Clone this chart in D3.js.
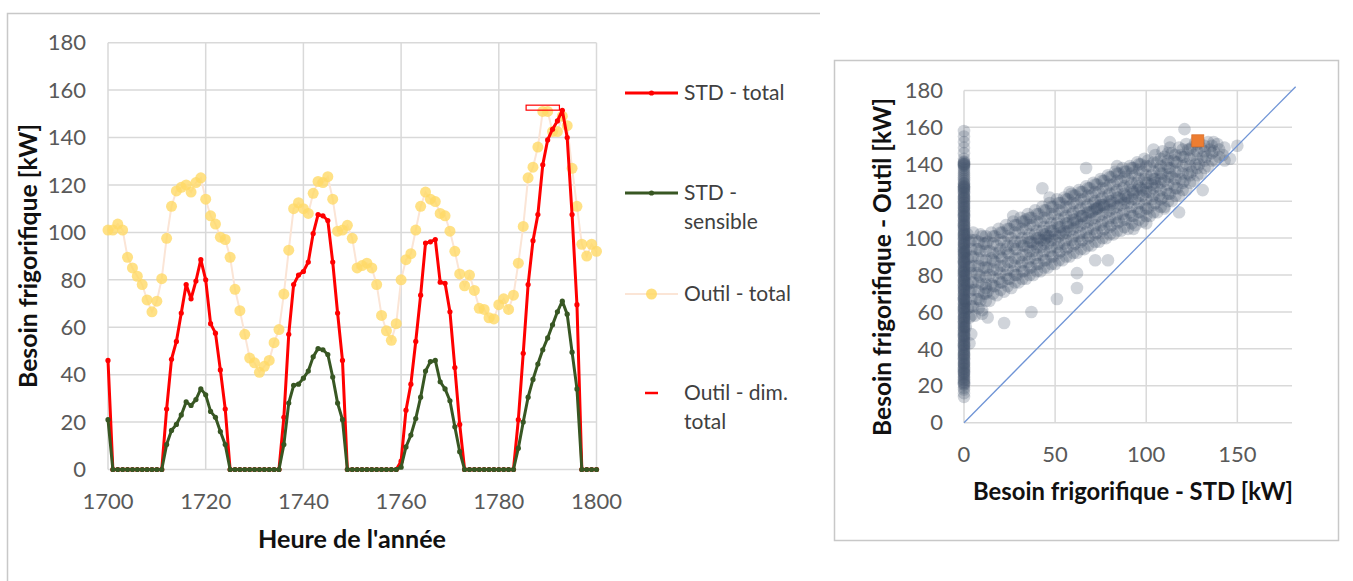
<!DOCTYPE html>
<html>
<head>
<meta charset="utf-8">
<script src="https://cdn.jsdelivr.net/npm/d3@7"></script>
<style>
  body { margin: 0; background: #fff; }
  svg { display: block; font-family: Lato, "Open Sans", sans-serif; }
</style>
</head>
<body>
<div id="chart"></div>
<script>
// ---- left chart data (hour 1700 .. 1800) ----
const hourTicks = [1700, 1720, 1740, 1760, 1780, 1800];
const kwTicks = [0, 20, 40, 60, 80, 100, 120, 140, 160, 180];

const stdTotal = [
  46, 0, 0, 0, 0, 0, 0, 0, 0, 0, 0, 0,
  25.5, 46.5, 54, 66, 78, 72, 79.5, 88.5, 80, 61.5, 57.5, 42, 25.5,
  0, 0, 0, 0, 0, 0, 0, 0, 0, 0, 0,
  22, 57, 78, 82, 83.5, 87.5, 99.5, 107.5, 107, 105, 87.5, 66, 46,
  0, 0, 0, 0, 0, 0, 0, 0, 0, 0, 0,
  3.5, 25, 36, 54, 73.5, 95.5, 96, 97, 79, 78.5, 66.5, 43, 19,
  0, 0, 0, 0, 0, 0, 0, 0, 0, 0, 0,
  21, 49, 78, 96.5, 107.5, 128.5, 139, 143.5, 147, 151.5, 140, 107.5, 69.5,
  0, 0, 0, 0
];

const stdSensible = [
  21, 0, 0, 0, 0, 0, 0, 0, 0, 0, 0, 0,
  10.5, 16.5, 19, 23, 28.5, 27, 29.5, 34, 31.5, 24.5, 22, 16, 10.5,
  0, 0, 0, 0, 0, 0, 0, 0, 0, 0, 0,
  10.5, 28, 35.5, 36, 38.5, 41.5, 47.5, 51, 50.5, 48.5, 39, 28, 21,
  0, 0, 0, 0, 0, 0, 0, 0, 0, 0, 0,
  1, 9.5, 14.5, 21.5, 30.5, 41.5, 45.5, 46, 37, 34, 29, 18, 7.5,
  0, 0, 0, 0, 0, 0, 0, 0, 0, 0, 0,
  9, 20, 30.5, 38, 44.5, 50.5, 55.5, 61, 66.5, 71, 65.5, 49.5, 34,
  0, 0, 0, 0
];

const outilTotal = [
  101, 101, 103.5, 101, 89.5, 85, 81.5, 78, 71.5, 66.5, 71,
  80.5, 97.5, 111, 117.5, 119, 120, 117, 121, 123, 114,
  107, 103.5, 98, 97, 89.5, 76, 67, 57, 47, 45,
  41, 43.5, 46, 53.5, 59, 74, 92.5, 110, 112.5, 110,
  108, 116.5, 121.5, 121, 123.5, 114, 100.5, 101, 103, 97.5,
  85, 86, 87, 85, 78, 65, 58.5, 54.5, 61.5, 80,
  88.5, 91, 101, 111, 117, 114, 113, 108, 107, 100.5,
  92, 82.5, 77.5, 82, 75.5, 68, 67.5, 64, 63.5, 69.5,
  72, 67.5, 73.5, 87, 102.5, 123, 127.5, 136, 151, 151,
  142.5, 142.5, 149, 145, 127, 111, 95, 90, 95, 92
];

// "Outil - dim. total" : design value drawn as a dash over these hours
const dimTotal = 152.6;
const dimHours = [1786, 1792];

const hours = d3.range(1700, 1700 + stdTotal.length);

// ---- right chart data : [STD kW, Outil kW] ----
const stdTicks = [0, 50, 100, 150];

// hours where STD is zero (vertical band at x = 0) : Outil values
const bandOutil = [14, 16, 18, 19, 21, 22, 23, 25, 26, 27, 28, 30, 31, 32, 33, 35, 36, 37, 38, 40,
  41, 42, 43, 45, 46, 47, 48, 50, 51, 52, 53, 55, 56, 57, 58, 60, 61, 62, 63, 65, 66, 67, 68,
  70, 71, 72, 73, 75, 76, 77, 78, 80, 81, 82, 83, 85, 86, 87, 88, 90, 91, 92, 93, 95, 96, 97,
  98, 100, 101, 102, 103, 105, 106, 107, 108, 110, 111, 112, 113, 115, 116, 117, 118, 120, 121,
  122, 123, 125, 126, 127, 128, 128, 129, 130, 132, 133, 135, 136, 138, 139, 140, 140, 141, 143,
  146, 149, 152, 155, 158,
  20.5, 21.5, 23.5, 24.5, 26.5, 27.5, 29, 29.5, 31.5, 32.5, 34, 34.5, 36.5, 37.5, 39, 39.5,
  41.5, 42.5, 44, 44.5, 46.5, 47.5, 49, 49.5, 51.5, 52.5, 54, 54.5, 56.5, 57.5, 59, 59.5,
  61.5, 62.5, 64, 64.5, 66.5, 67.5, 69, 69.5, 71.5, 72.5, 74, 74.5, 76.5, 77.5, 79, 79.5,
  81.5, 82.5, 84, 84.5, 86.5, 87.5, 89, 89.5, 91.5, 92.5, 94, 94.5, 96.5, 97.5, 99, 99.5,
  101.5, 102.5, 104, 104.5, 106.5, 107.5, 109, 109.5, 111.5, 112.5, 114, 114.5, 116.5, 117.5,
  119, 119.5, 121.5, 122.5, 124, 124.5, 126.5, 127.5, 129.5, 131, 134, 137, 139.5, 140.5, 141.5];

const cloudPts = [
  [1,52],[3,57],[2,62],[1,66],[3,71],[2,75],[1,80],[3,84],[2,89],[1,93],[3,98],[2,102],
  [6,58],[5,63],[7,67],[6,72],[5,76],[7,81],[6,85],[5,90],[7,94],[6,99],[5,103],
  [10,61],[9,66],[11,70],[10,75],[9,79],[11,84],[10,88],[9,93],[11,97],[10,101],
  [14,66],[13,71],[15,75],[14,80],[13,84],[15,89],[14,93],[13,98],[15,103],
  [18,69],[17,74],[19,78],[18,83],[17,87],[19,92],[18,96],[17,101],[19,105],
  [22,71],[21,76],[23,80],[22,85],[21,89],[23,94],[22,98],[21,103],[23,107],
  [26,73],[25,78],[27,82],[26,87],[25,91],[27,96],[26,100],[25,105],[27,109],
  [30,76],[29,80],[31,85],[30,89],[29,94],[31,98],[30,103],[29,107],[31,111],
  [34,78],[33,82],[35,87],[34,91],[33,96],[35,100],[34,105],[33,109],[35,113],
  [38,80],[37,84],[39,89],[38,93],[37,98],[39,102],[38,107],[37,111],[39,115],
  [42,82],[41,86],[43,91],[42,95],[41,100],[43,104],[42,109],[41,113],[43,117],
  [46,84],[45,88],[47,93],[46,97],[45,102],[47,106],[46,111],[45,115],[47,119],
  [50,86],[49,90],[51,95],[50,99],[49,104],[51,108],[50,113],[49,117],[51,121],
  [54,88],[53,93],[55,97],[54,102],[53,106],[55,111],[54,115],[53,119],[55,122],
  [58,90],[57,95],[59,99],[58,104],[57,108],[59,113],[58,117],[57,121],[59,124],
  [62,92],[61,97],[63,101],[62,106],[61,110],[63,115],[62,119],[61,123],[63,126],
  [66,94],[65,99],[67,103],[66,108],[65,112],[67,117],[66,121],[65,125],[67,128],
  [70,96],[69,101],[71,105],[70,110],[69,114],[71,119],[70,123],[69,127],[71,130],
  [74,98],[73,103],[75,107],[74,112],[73,116],[75,121],[74,125],[73,129],[75,132],
  [78,100],[77,105],[79,109],[78,114],[77,118],[79,123],[78,127],[77,131],[79,134],
  [82,102],[81,107],[83,111],[82,116],[81,120],[83,125],[82,129],[81,133],[83,136],
  [86,104],[85,109],[87,113],[86,118],[85,122],[87,127],[86,131],[85,135],[87,138],
  [90,105],[89,110],[91,114],[90,119],[89,123],[91,128],[90,132],[89,136],[91,139],
  [94,107],[93,112],[95,116],[94,121],[93,125],[95,130],[94,134],[93,138],[95,141],
  [98,109],[97,114],[99,118],[98,123],[97,127],[99,132],[98,136],[97,140],[99,143],
  [102,112],[101,116],[103,121],[102,125],[101,130],[103,134],[102,139],[101,142],
  [106,114],[105,119],[107,123],[106,128],[105,132],[107,137],[106,141],[105,145],
  [110,117],[109,122],[111,126],[110,131],[109,135],[111,140],[110,144],[109,147],
  [114,120],[113,124],[115,129],[114,133],[113,138],[115,142],[114,146],[113,149],
  [118,123],[117,127],[119,132],[118,136],[117,141],[119,145],[118,149],
  [122,126],[121,131],[123,135],[122,140],[121,144],[123,148],[122,151],
  [126,131],[125,136],[127,140],[126,145],[125,149],[127,152],
  [130,135],[129,140],[131,144],[130,149],[129,152],
  [134,139],[133,144],[135,148],[134,152],
  [138,142],[137,147],[139,151],
  [142,145],[143,149],
  // second, staggered layer
  [4,58],[4,63],[4,67],[4,72],[4,76],[4,81],[4,85],[4,90],[4,94],[4,99],
  [8,62],[8,67],[8,71],[8,76],[8,80],[8,85],[8,89],[8,94],[8,98],
  [12,66],[12,70],[12,75],[12,79],[12,84],[12,88],[12,93],[12,97],[12,101],
  [16,70],[16,74],[16,79],[16,83],[16,88],[16,92],[16,97],[16,101],
  [20,72],[20,76],[20,81],[20,85],[20,90],[20,94],[20,99],[20,103],
  [24,74],[24,78],[24,83],[24,87],[24,92],[24,96],[24,101],[24,105],
  [28,76],[28,80],[28,85],[28,89],[28,94],[28,98],[28,103],[28,107],
  [32,78],[32,82],[32,87],[32,91],[32,96],[32,100],[32,105],[32,109],
  [36,80],[36,84],[36,89],[36,93],[36,98],[36,102],[36,107],[36,111],
  [40,82],[40,86],[40,91],[40,95],[40,100],[40,104],[40,109],[40,113],
  [44,84],[44,88],[44,93],[44,97],[44,102],[44,106],[44,111],[44,115],
  [48,86],[48,90],[48,95],[48,99],[48,104],[48,108],[48,113],[48,117],
  [52,88],[52,92],[52,97],[52,101],[52,106],[52,110],[52,115],[52,119],
  [56,90],[56,94],[56,99],[56,103],[56,108],[56,112],[56,117],[56,121],
  [60,92],[60,96],[60,101],[60,105],[60,110],[60,114],[60,119],[60,123],
  [64,94],[64,98],[64,103],[64,107],[64,112],[64,116],[64,121],[64,125],
  [68,96],[68,100],[68,105],[68,109],[68,114],[68,118],[68,123],[68,127],
  [72,98],[72,102],[72,107],[72,111],[72,116],[72,120],[72,125],[72,129],
  [76,100],[76,104],[76,109],[76,113],[76,118],[76,122],[76,127],[76,131],
  [80,102],[80,106],[80,111],[80,115],[80,120],[80,124],[80,129],[80,133],
  [84,104],[84,108],[84,113],[84,117],[84,122],[84,126],[84,131],[84,135],
  [88,106],[88,110],[88,115],[88,119],[88,124],[88,128],[88,133],[88,136],
  [92,108],[92,112],[92,117],[92,121],[92,126],[92,130],[92,135],[92,138],
  [96,110],[96,114],[96,119],[96,123],[96,128],[96,132],[96,137],[96,140],
  [100,112],[100,116],[100,121],[100,125],[100,130],[100,134],[100,139],
  [104,114],[104,118],[104,123],[104,127],[104,132],[104,136],[104,141],
  [108,117],[108,121],[108,126],[108,130],[108,135],[108,139],[108,143],
  [112,120],[112,124],[112,129],[112,133],[112,138],[112,142],[112,146],
  [116,123],[116,127],[116,132],[116,136],[116,141],[116,145],
  [120,126],[120,130],[120,135],[120,139],[120,144],[120,148],
  [124,130],[124,134],[124,139],[124,143],[124,148],
  [128,134],[128,138],[128,143],[128,147],[128,151],
  [132,138],[132,142],[132,147],[132,150],
  [136,142],[136,146],[136,150],
  [140,144],[140,148],
  // darker core
  [45,100],[44,99],[46,101],[74,117],[73,116],[75,118],[60,108],[86,121],[95,126],[55,104],
  [65,112],[80,118],[90,122],[100,127],[40,97],[50,102],[70,114],[105,130],
  [35,95],[38,97],[42,99],[47,101],[53,103],[57,106],[62,109],[67,111],[71,115],[77,117],
  [82,119],[88,121],[93,124],[98,126],[103,129],[108,132],[113,135]
];

const outlierPts = [
  [22,54],[37,60],[51,67],[62,73],[43,127],[67,138],[121,159],[137,152],[150,150],[143,142],
  [131,126],[118,114],[93,105],[79,88],[72,88],[62,81],[9,102],[12,73],[34,110],[27,112],
  [104,148],[113,152],[84,139],[58,125],[47,122],[146,143],[100,108],[110,116],
  [3,43],[4,48],[10,59],[13,57]
];

// design point (STD max vs Outil dim.)
const designPt = [128.3, 152.7];

// ---- drawing ----
const W = 1353, H = 581;
const svg = d3.select('#chart').append('svg')
  .attr('width', W)
  .attr('height', H);

svg.append('rect').attr('width', W).attr('height', H).attr('fill', '#fff');

const gridColor = '#d9d9d9';
const tickColor = '#595959';
const tickFont = '22px';

// scale a text's font so it spans the given width
function fitText(sel, width) {
  const len = sel.node().getComputedTextLength();
  const size = parseFloat(sel.style('font-size'));
  sel.style('font-size', (size * width / len).toFixed(2) + 'px');
  return sel;
}

function axisTitle(parent, txt) {
  return parent.append('text')
    .attr('text-anchor', 'middle')
    .style('font-size', '20px')
    .style('font-weight', 'bold')
    .style('fill', '#111')
    .text(txt);
}

// ===== Left chart =====
svg.append('path')
  .attr('d', 'M7.5,600V13.5H820')
  .attr('fill', 'none')
  .attr('stroke', '#c8c8c8')
  .attr('stroke-width', 1.5);

const x = d3.scaleLinear().domain([1700, 1800]).range([108, 596.5]);
const y = d3.scaleLinear().domain([0, 180]).range([469.5, 42.7]);

const left = svg.append('g').attr('class', 'left-chart');

// grid
left.selectAll('.hgrid')
  .data(kwTicks)
  .enter().append('line')
  .attr('x1', x(1700)).attr('x2', x(1800))
  .attr('y1', d => y(d)).attr('y2', d => y(d))
  .attr('stroke', gridColor).attr('stroke-width', 1.5);

left.selectAll('.vgrid')
  .data(hourTicks)
  .enter().append('line')
  .attr('x1', d => x(d)).attr('x2', d => x(d))
  .attr('y1', y(0)).attr('y2', y(180))
  .attr('stroke', gridColor).attr('stroke-width', 1.5);

// tick labels
left.selectAll('.ylab')
  .data(kwTicks)
  .enter().append('text')
  .attr('x', 86)
  .attr('y', d => y(d))
  .attr('dy', '0.35em')
  .attr('text-anchor', 'end')
  .style('font-size', tickFont)
  .style('fill', tickColor)
  .text(d => d);

left.selectAll('.xlab')
  .data(hourTicks)
  .enter().append('text')
  .attr('x', d => x(d))
  .attr('y', 509)
  .attr('text-anchor', 'middle')
  .style('font-size', tickFont)
  .style('fill', tickColor)
  .text(d => d);

// axis titles
fitText(axisTitle(left, "Heure de l'année").attr('x', 352).attr('y', 548), 188);
fitText(axisTitle(left, 'Besoin frigorifique [kW]')
  .attr('transform', 'translate(37,256) rotate(-90)'), 264);

const line = d3.line()
  .x((d, i) => x(hours[i]))
  .y(d => y(d));

// Outil - total
left.append('path')
  .datum(outilTotal)
  .attr('d', line)
  .attr('fill', 'none')
  .attr('stroke', '#fbe5d6')
  .attr('stroke-width', 2);

left.selectAll('.outil-dot')
  .data(outilTotal)
  .enter().append('circle')
  .attr('cx', (d, i) => x(hours[i]))
  .attr('cy', d => y(d))
  .attr('r', 5.5)
  .attr('fill', '#ffd966')
  .attr('fill-opacity', 0.8);

// STD - total
left.append('path')
  .datum(stdTotal)
  .attr('d', line)
  .attr('fill', 'none')
  .attr('stroke', '#ff0000')
  .attr('stroke-width', 3)
  .attr('stroke-linejoin', 'round');

left.selectAll('.std-dot')
  .data(stdTotal)
  .enter().append('circle')
  .attr('cx', (d, i) => x(hours[i]))
  .attr('cy', d => y(d))
  .attr('r', 2.6)
  .attr('fill', '#ff0000');

// STD - sensible
left.append('path')
  .datum(stdSensible)
  .attr('d', line)
  .attr('fill', 'none')
  .attr('stroke', '#385723')
  .attr('stroke-width', 3)
  .attr('stroke-linejoin', 'round');

left.selectAll('.sens-dot')
  .data(stdSensible)
  .enter().append('circle')
  .attr('cx', (d, i) => x(hours[i]))
  .attr('cy', d => y(d))
  .attr('r', 2.6)
  .attr('fill', '#385723');

// Outil - dim. total
left.append('rect')
  .attr('x', x(dimHours[0]) - 2)
  .attr('y', y(dimTotal) - 2.5)
  .attr('width', x(dimHours[1]) - x(dimHours[0]) + 4)
  .attr('height', 5)
  .attr('fill', 'none')
  .attr('stroke', '#ff0000')
  .attr('stroke-width', 1.2);

// legend
const legendItems = [
  { lines: ['STD - total'], color: '#ff0000', kind: 'line', y: 93 },
  { lines: ['STD -', 'sensible'], color: '#385723', kind: 'line', y: 193 },
  { lines: ['Outil - total'], color: '#fbe5d6', kind: 'dot', y: 294 },
  { lines: ['Outil - dim.', 'total'], color: '#ff0000', kind: 'dash', y: 393 }
];

const legend = left.append('g').attr('class', 'legend');
legendItems.forEach(item => {
  const g = legend.append('g').attr('transform', `translate(0,${item.y})`);
  if (item.kind === 'line') {
    g.append('line').attr('x1', 625).attr('x2', 678).attr('y1', 0).attr('y2', 0)
      .attr('stroke', item.color).attr('stroke-width', 3);
    g.append('circle').attr('cx', 651.5).attr('cy', 0).attr('r', 2.6).attr('fill', item.color);
  } else if (item.kind === 'dot') {
    g.append('line').attr('x1', 625).attr('x2', 678).attr('y1', 0).attr('y2', 0)
      .attr('stroke', item.color).attr('stroke-width', 2);
    g.append('circle').attr('cx', 651.5).attr('cy', 0).attr('r', 5.5)
      .attr('fill', '#ffd966').attr('fill-opacity', 0.85);
  } else {
    g.append('line').attr('x1', 645).attr('x2', 658).attr('y1', 0).attr('y2', 0)
      .attr('stroke', item.color).attr('stroke-width', 2.5);
  }
  item.lines.forEach((t, k) => {
    g.append('text')
      .attr('x', 684)
      .attr('y', 7 + k * 28.5)
      .style('font-size', '21px')
      .style('fill', '#404040')
      .text(t);
  });
});

// ===== Right chart =====
svg.append('rect')
  .attr('x', 834.5).attr('y', 60.5)
  .attr('width', 504).attr('height', 480)
  .attr('fill', '#fff')
  .attr('stroke', '#c8c8c8')
  .attr('stroke-width', 1.5);

const xs = d3.scaleLinear().domain([0, 180]).range([964, 1292]);
const ys = d3.scaleLinear().domain([0, 180]).range([422.7, 90.4]);

const right = svg.append('g').attr('class', 'right-chart');

right.selectAll('.hgrid')
  .data(kwTicks)
  .enter().append('line')
  .attr('x1', xs(0)).attr('x2', xs(180))
  .attr('y1', d => ys(d)).attr('y2', d => ys(d))
  .attr('stroke', gridColor).attr('stroke-width', 1.5);

right.selectAll('.vgrid')
  .data(stdTicks)
  .enter().append('line')
  .attr('x1', d => xs(d)).attr('x2', d => xs(d))
  .attr('y1', ys(0)).attr('y2', ys(180))
  .attr('stroke', gridColor).attr('stroke-width', 1.5);

right.selectAll('.ylab')
  .data(kwTicks)
  .enter().append('text')
  .attr('x', 943)
  .attr('y', d => ys(d))
  .attr('dy', '0.35em')
  .attr('text-anchor', 'end')
  .style('font-size', tickFont)
  .style('fill', tickColor)
  .text(d => d);

right.selectAll('.xlab')
  .data(stdTicks)
  .enter().append('text')
  .attr('x', d => xs(d))
  .attr('y', 462)
  .attr('text-anchor', 'middle')
  .style('font-size', tickFont)
  .style('fill', tickColor)
  .text(d => d);

fitText(axisTitle(right, 'Besoin frigorifique - STD [kW]').attr('x', 1133).attr('y', 500), 320);
fitText(axisTitle(right, 'Besoin frigorifique - Outil [kW]')
  .attr('transform', 'translate(891,267) rotate(-90)'), 338);

const scatterPts = bandOutil.map(v => [0, v]).concat(cloudPts, outlierPts);

right.selectAll('.pt')
  .data(scatterPts)
  .enter().append('circle')
  .attr('cx', d => xs(d[0]))
  .attr('cy', d => ys(d[1]))
  .attr('r', 6.3)
  .attr('fill', '#44546a')
  .attr('fill-opacity', 0.25);

// y = x reference line
right.append('line')
  .attr('x1', xs(0)).attr('y1', ys(0))
  .attr('x2', xs(182)).attr('y2', ys(182))
  .attr('stroke', '#6f94d6')
  .attr('stroke-width', 1.3);

right.append('rect')
  .attr('x', xs(designPt[0]) - 6)
  .attr('y', ys(designPt[1]) - 6)
  .attr('width', 12).attr('height', 12)
  .attr('fill', '#ed7d31')
  .attr('stroke', '#d9702b')
  .attr('stroke-width', 0.8);
</script>
</body>
</html>
